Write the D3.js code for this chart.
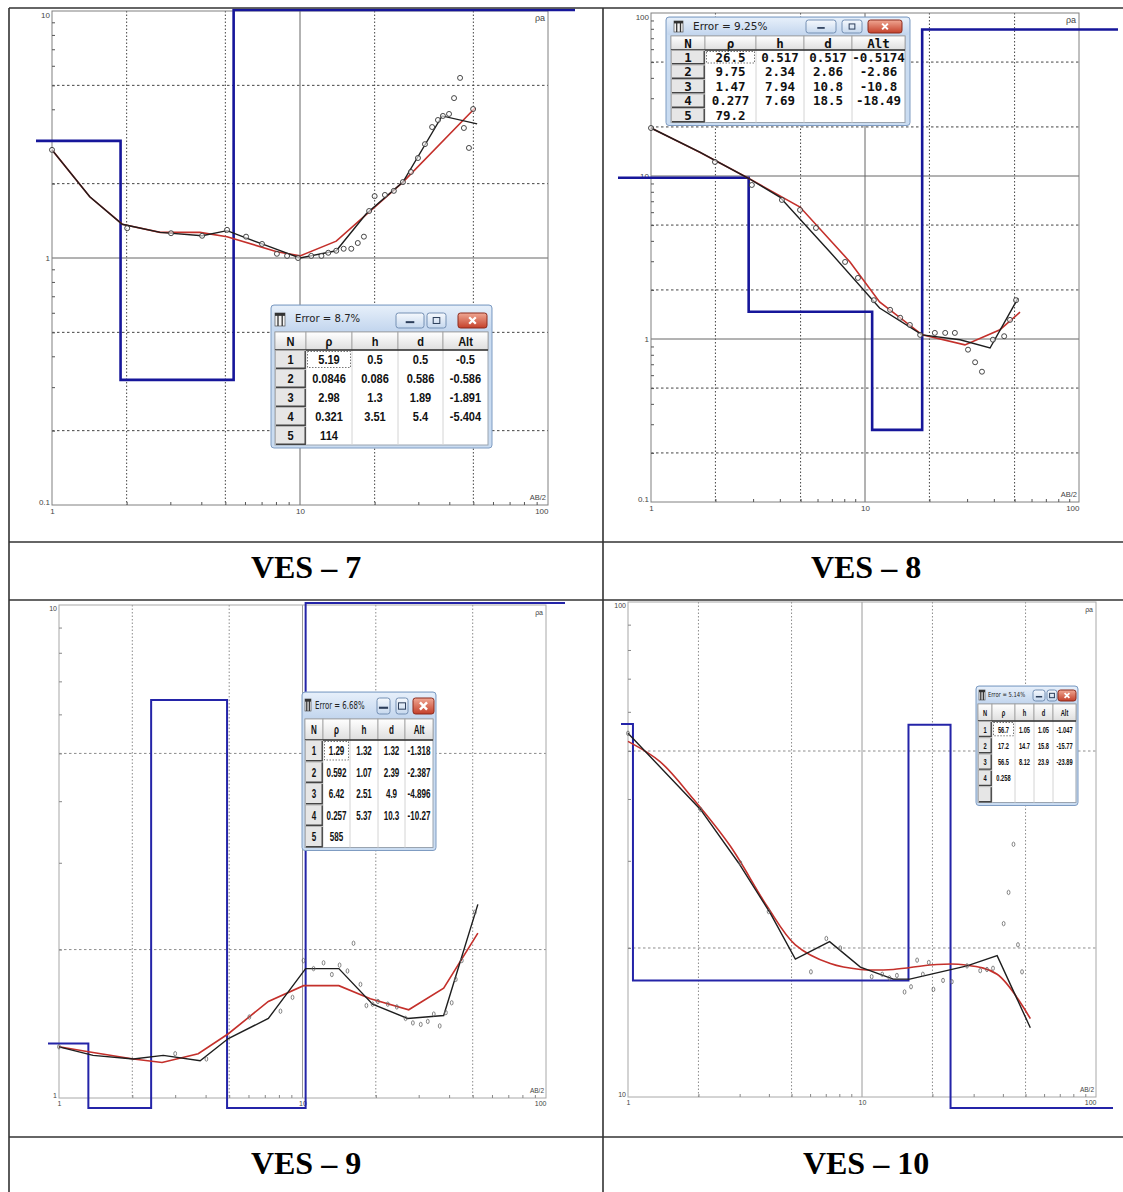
<!DOCTYPE html>
<html>
<head>
<meta charset="utf-8">
<script src="https://cdn.jsdelivr.net/npm/d3@7"></script>
<style>
  body { margin: 0; background: #fff; }
  svg { display: block; }
</style>
</head>
<body>
<svg id="chart" width="1123" height="1192"></svg>
<script>
const width = 1123
const height = 1192

// ---------- VES-7 ----------
const ves7Ab2 = [1.0, 2.01, 3.02, 4.03, 5.08, 6.06, 7.03, 8.07, 8.87, 9.82, 11.1, 12.2, 13.0, 14.0, 15.0, 16.1, 17.1, 18.1, 19.0, 20.0, 22.0, 23.9, 26.0, 28.0, 29.9, 31.9, 34.1, 36.0, 37.7, 39.9, 41.8, 44.2, 45.8, 48.0, 49.9]
const ves7Rho = [2.74, 1.32, 1.26, 1.23, 1.30, 1.22, 1.14, 1.04, 1.02, 1.00, 1.02, 1.02, 1.05, 1.07, 1.09, 1.09, 1.15, 1.22, 1.55, 1.78, 1.80, 1.87, 2.03, 2.23, 2.54, 2.89, 3.39, 3.62, 3.76, 3.83, 4.44, 5.36, 3.36, 2.79, 4.01]
const ves7FieldAb2 = [1.0, 1.42, 1.92, 2.73, 4.03, 5.08, 7.03, 10.0, 14.0, 18.5, 26.0, 37.4, 51.8]
const ves7FieldRho = [2.74, 1.77, 1.37, 1.27, 1.23, 1.29, 1.14, 1.00, 1.07, 1.51, 2.03, 3.76, 3.49]
const ves7CalcAb2 = [1.0, 1.42, 1.92, 2.73, 3.95, 5.08, 8.07, 10.0, 14.0, 26.0, 50.8]
const ves7CalcRho = [2.74, 1.77, 1.37, 1.27, 1.27, 1.22, 1.06, 1.02, 1.17, 2.03, 4.05]
const ves7Error = '8.7%'
const ves7LayerRho = ['5.19', '0.0846', '2.98', '0.321', '114']
const ves7LayerH = ['0.5', '0.086', '1.3', '3.51']
const ves7LayerD = ['0.5', '0.586', '1.89', '5.4']
const ves7LayerAlt = ['-0.5', '-0.586', '-1.891', '-5.404']

// ---------- VES-8 ----------
const ves8Ab2 = [1.0, 1.99, 2.96, 4.09, 4.97, 5.90, 8.07, 9.27, 11.0, 13.1, 14.6, 16.2, 18.1, 21.2, 23.7, 26.3, 30.3, 32.7, 35.2, 39.6, 44.7, 47.6, 50.8]
const ves8Rho = [19.7, 12.2, 8.81, 7.13, 6.19, 4.80, 2.97, 2.37, 1.73, 1.51, 1.35, 1.22, 1.06, 1.09, 1.09, 1.09, 0.86, 0.72, 0.63, 0.99, 1.04, 1.31, 1.73]
const ves8FieldAb2 = [1.0, 1.69, 2.84, 4.0, 6.86, 11.7, 18.5, 27.8, 38.4, 51.9]
const ves8FieldRho = [19.7, 14.0, 9.72, 7.43, 3.42, 1.55, 1.06, 0.99, 0.88, 1.78]
const ves8CalcAb2 = [1.0, 1.69, 2.84, 4.97, 8.51, 11.7, 18.5, 29.3, 42.7, 53.0]
const ves8CalcRho = [19.7, 14.0, 9.72, 6.45, 2.97, 1.69, 1.06, 0.92, 1.14, 1.46]
const ves8Error = '9.25%'
const ves8LayerRho = ['26.5', '9.75', '1.47', '0.277', '79.2']
const ves8LayerH = ['0.517', '2.34', '7.94', '7.69']
const ves8LayerD = ['0.517', '2.86', '10.8', '18.5']
const ves8LayerAlt = ['-0.5174', '-2.86', '-10.8', '-18.49']

// ---------- VES-9 ----------
const ves9Ab2 = [1.0, 3.0, 4.03, 6.05, 8.12, 9.10, 10.1, 11.1, 12.2, 13.2, 14.2, 15.3, 16.2, 17.3, 18.3, 19.4, 20.4, 22.4, 24.4, 26.5, 28.4, 30.6, 32.7, 34.6, 36.6, 38.8, 41.0, 42.6, 45.1, 51.0]
const ves9Rho = [1.27, 1.23, 1.20, 1.46, 1.50, 1.60, 1.90, 1.83, 1.88, 1.78, 1.86, 1.81, 2.06, 1.70, 1.54, 1.55, 1.57, 1.55, 1.53, 1.45, 1.42, 1.41, 1.43, 1.48, 1.40, 1.49, 1.56, 1.74, 1.90, 2.38]
const ves9FieldAb2 = [1.0, 1.38, 2.02, 2.68, 3.80, 4.96, 7.24, 10.3, 14.1, 19.4, 27.0, 38.0, 52.5]
const ves9FieldRho = [1.27, 1.22, 1.20, 1.22, 1.19, 1.32, 1.45, 1.83, 1.83, 1.55, 1.45, 1.47, 2.47]
const ves9CalcAb2 = [1.0, 1.34, 2.02, 2.65, 3.73, 4.96, 7.24, 10.1, 14.1, 19.0, 27.3, 38.0, 52.5]
const ves9CalcRho = [1.27, 1.24, 1.20, 1.18, 1.23, 1.35, 1.57, 1.69, 1.69, 1.59, 1.51, 1.67, 2.16]
const ves9Error = '6.68%'
const ves9LayerRho = ['1.29', '0.592', '6.42', '0.257', '585']
const ves9LayerH = ['1.32', '1.07', '2.51', '5.37']
const ves9LayerD = ['1.32', '2.39', '4.9', '10.3']
const ves9LayerAlt = ['-1.318', '-2.387', '-4.896', '-10.27']

// ---------- VES-10 ----------
const ves10Ab2 = [1.0, 2.04, 3.02, 3.99, 6.05, 7.04, 8.07, 11.0, 12.2, 13.1, 14.1, 15.2, 16.2, 17.2, 18.2, 19.3, 20.2, 22.2, 24.2, 28.1, 32.0, 34.2, 36.3, 40.3, 42.3, 44.4, 46.4, 48.3]
const ves10Rho = [54.3, 38.1, 29.7, 23.7, 17.9, 20.9, 20.0, 17.5, 17.7, 17.4, 17.6, 16.3, 16.7, 18.9, 17.7, 18.7, 16.5, 17.2, 17.1, 18.4, 18.0, 18.1, 18.2, 22.4, 25.9, 32.4, 20.3, 17.9]
const ves10FieldAb2 = [1.0, 2.04, 2.97, 4.06, 5.19, 7.27, 9.84, 13.6, 16.0, 28.1, 37.8, 52.4]
const ves10FieldRho = [54.3, 38.1, 29.7, 23.5, 19.0, 20.6, 18.3, 17.3, 17.3, 18.4, 19.3, 13.8]
const ves10CalcAb2 = [1.0, 1.37, 1.91, 2.74, 3.93, 5.19, 7.32, 9.84, 13.6, 20.2, 27.2, 37.8, 52.4]
const ves10CalcRho = [52.3, 47.6, 39.9, 32.1, 24.3, 20.3, 18.6, 18.1, 18.1, 18.5, 18.5, 17.7, 14.4]
const ves10Error = '5.14%'
const ves10LayerRho = ['56.7', '17.2', '56.5', '0.258']
const ves10LayerH = ['1.05', '14.7', '8.12']
const ves10LayerD = ['1.05', '15.8', '23.9']
const ves10LayerAlt = ['-1.047', '-15.77', '-23.89']

const tableHeads = ['N', 'ρ', 'h', 'd', 'Alt']

const panels = [
    {
        title: 'VES – 7', titleX: 306, titleY: 578,
        left: 52, right: 548, top: 11, bottom: 505, yDomain: [0.1, 10],
        clipX: [36, 575], clampY: [10, 515], light: false, dots: 'circle',
        ab2: ves7Ab2, rho: ves7Rho, fieldAb2: ves7FieldAb2, fieldRho: ves7FieldRho,
        calcAb2: ves7CalcAb2, calcRho: ves7CalcRho, smooth: false,
        layers: { rho: ves7LayerRho, h: ves7LayerH, d: ves7LayerD, alt: ves7LayerAlt, error: ves7Error, extraRows: 0 },
        win: { x: 271, y: 305, pad: 4, titleH: 27, headH: 18, rowH: 19, padB: 3, cols: [31, 46, 46, 45, 45],
               font: 'Liberation Sans', fs: 13, sx: 0.85, tfs: 11, tsx: 0.92, tdx: 24,
               icon: [4, 8, 10, 13],
               btns: [[125, 28], [156, 19], [187, 29]], btnY: 8, btnH: 15 }
    },
    {
        title: 'VES – 8', titleX: 866, titleY: 578,
        left: 651, right: 1079, top: 13, bottom: 502, yDomain: [0.1, 100],
        clipX: [618, 1118], clampY: [5, 515], light: false, dots: 'circle',
        ab2: ves8Ab2, rho: ves8Rho, fieldAb2: ves8FieldAb2, fieldRho: ves8FieldRho,
        calcAb2: ves8CalcAb2, calcRho: ves8CalcRho, smooth: false,
        layers: { rho: ves8LayerRho, h: ves8LayerH, d: ves8LayerD, alt: ves8LayerAlt, error: ves8Error, extraRows: 0 },
        win: { x: 666, y: 17, pad: 5, titleH: 19, headH: 14, rowH: 14.5, padB: 3, cols: [34, 51, 48, 48, 53],
               font: 'DejaVu Sans Mono', fs: 12.5, sx: 1, tfs: 10.5, tsx: 1, tdx: 27,
               icon: [8, 4, 9, 11],
               btns: [[140, 30], [176, 20], [202, 34]], btnY: 3, btnH: 13 }
    },
    {
        title: 'VES – 9', titleX: 306, titleY: 1174,
        left: 59, right: 546, top: 605, bottom: 1098, yDomain: [1, 10],
        clipX: [48, 565], clampY: [603, 1108], light: true, dots: 'zero',
        ab2: ves9Ab2, rho: ves9Rho, fieldAb2: ves9FieldAb2, fieldRho: ves9FieldRho,
        calcAb2: ves9CalcAb2, calcRho: ves9CalcRho, smooth: false,
        layers: { rho: ves9LayerRho, h: ves9LayerH, d: ves9LayerD, alt: ves9LayerAlt, error: ves9Error, extraRows: 0 },
        win: { x: 302, y: 692, pad: 3, titleH: 27, headH: 21, rowH: 21.5, padB: 3, cols: [18, 27, 28, 27, 28],
               font: 'Liberation Sans', fs: 13, sx: 0.62, tfs: 10, tsx: 0.7, tdx: 13,
               icon: [3, 7, 6, 12],
               btns: [[75, 13], [94, 12], [111, 21]], btnY: 6, btnH: 16 }
    },
    {
        title: 'VES – 10', titleX: 866, titleY: 1174,
        left: 628, right: 1096, top: 602, bottom: 1097, yDomain: [10, 100],
        clipX: [621, 1113], clampY: [600, 1108], light: true, dots: 'zero',
        ab2: ves10Ab2, rho: ves10Rho, fieldAb2: ves10FieldAb2, fieldRho: ves10FieldRho,
        calcAb2: ves10CalcAb2, calcRho: ves10CalcRho, smooth: true,
        layers: { rho: ves10LayerRho, h: ves10LayerH, d: ves10LayerD, alt: ves10LayerAlt, error: ves10Error, extraRows: 1 },
        win: { x: 976, y: 686, pad: 2, titleH: 18, headH: 17, rowH: 16.3, padB: 3, cols: [14, 23, 19, 19, 23],
               font: 'Liberation Sans', fs: 9.5, sx: 0.6, tfs: 7, tsx: 0.75, tdx: 12,
               icon: [3, 4, 6, 10],
               btns: [[57, 12], [71, 10], [82, 18]], btnY: 4, btnH: 11 }
    }
]

const svg = d3.select('#chart')
    .attr('viewBox', `0 0 ${width} ${height}`)

const defs = svg.append('defs')

function gradient (id, stops) {
    const lg = defs.append('linearGradient')
        .attr('id', id)
        .attr('x1', 0).attr('y1', 0).attr('x2', 0).attr('y2', 1)
    stops.forEach(s => lg.append('stop').attr('offset', s[0]).attr('stop-color', s[1]))
}

gradient('titleGrad', [['0%', '#e6effa'], ['100%', '#c3d6ee']])
gradient('btnGrad', [['0%', '#f6f9fd'], ['100%', '#c6d8ee']])
gradient('closeGrad', [['0%', '#f0a894'], ['100%', '#c4402a']])
gradient('headGrad', [['0%', '#ffffff'], ['100%', '#dedede']])

svg.append('rect').attr('width', width).attr('height', height).attr('fill', '#fff')

// ---------- plots ----------
const fmt = v => v >= 1 ? d3.format('d')(v) : String(v)
const round3 = v => +v.toPrecision(3)
const leadDigit = v => Math.round(v / Math.pow(10, Math.floor(Math.log10(v) + 1e-9)))

panels.forEach((p, i) => {
    const g = svg.append('g').attr('class', 'panel')

    const x = d3.scaleLog().domain([1, 100]).range([p.left, p.right])
    const y = d3.scaleLog().domain(p.yDomain).range([p.bottom, p.top])

    const xDec = [1, 10, 100]
    const e0 = Math.round(Math.log10(p.yDomain[0]))
    const e1 = Math.round(Math.log10(p.yDomain[1]))
    const yDec = d3.range(e0, e1 + 1).map(e => round3(Math.pow(10, e)))

    const minorOf = decs => decs.slice(0, -1).flatMap(dv => d3.range(2, 10).map(k => round3(k * dv)))
    const xMinor = minorOf(xDec)
    const yMinor = minorOf(yDec)

    const gridCol = p.light ? '#9a9a9a' : '#666'
    const dotCol = p.light ? '#8c8c8c' : '#444'

    // dotted grid at 2 and 5
    const xDot = xMinor.filter(v => [2, 5].includes(leadDigit(v)))
    const yDot = yMinor.filter(v => [2, 5].includes(leadDigit(v)))

    g.selectAll('line.vdot').data(xDot).enter().append('line')
        .attr('x1', d => x(d)).attr('x2', d => x(d))
        .attr('y1', p.top).attr('y2', p.bottom)
        .attr('stroke', dotCol).attr('stroke-width', 1).attr('stroke-dasharray', '1.5,2')
    g.selectAll('line.hdot').data(yDot).enter().append('line')
        .attr('x1', p.left).attr('x2', p.right)
        .attr('y1', d => y(d)).attr('y2', d => y(d))
        .attr('stroke', dotCol).attr('stroke-width', 1).attr('stroke-dasharray', '2.5,2.5')

    // solid decade grid
    g.selectAll('line.vsol').data(xDec.slice(1, -1)).enter().append('line')
        .attr('x1', d => x(d)).attr('x2', d => x(d))
        .attr('y1', p.top).attr('y2', p.bottom)
        .attr('stroke', gridCol).attr('stroke-width', 1)
    g.selectAll('line.hsol').data(yDec.slice(1, -1)).enter().append('line')
        .attr('x1', p.left).attr('x2', p.right)
        .attr('y1', d => y(d)).attr('y2', d => y(d))
        .attr('stroke', gridCol).attr('stroke-width', 1)

    // frame
    g.append('rect')
        .attr('x', p.left).attr('y', p.top)
        .attr('width', p.right - p.left).attr('height', p.bottom - p.top)
        .attr('fill', 'none').attr('stroke', p.light ? '#a8a8a8' : '#808080').attr('stroke-width', 1)

    // minor ticks
    const axStyle = sel => {
        sel.select('.domain').remove()
        sel.selectAll('line').attr('stroke', p.light ? '#888' : '#555')
    }
    g.append('g')
        .attr('transform', `translate(${p.left},0)`)
        .call(d3.axisLeft(y).tickValues(yMinor).tickSize(-3).tickFormat(''))
        .call(axStyle)
    g.append('g')
        .attr('transform', `translate(0,${p.bottom})`)
        .call(d3.axisBottom(x).tickValues(xMinor).tickSize(-3).tickFormat(''))
        .call(axStyle)

    // labelled decades
    const labelFont = sel => {
        sel.select('.domain').remove()
        sel.selectAll('text')
            .attr('font-family', 'Liberation Sans, Arial, sans-serif')
            .attr('font-size', p.light ? 7 : 8)
            .attr('fill', '#444')
    }
    const yl = g.append('g')
        .attr('transform', `translate(${p.left},0)`)
        .call(d3.axisLeft(y).tickValues(yDec).tickSize(0).tickPadding(2).tickFormat(fmt))
        .call(labelFont)
    yl.selectAll('.tick text').attr('dy', (d, k) => k === 0 ? '-0.1em' : (k === yDec.length - 1 ? '0.75em' : '0.32em'))

    const xl = g.append('g')
        .attr('transform', `translate(0,${p.bottom})`)
        .call(d3.axisBottom(x).tickValues(xDec).tickSize(0).tickPadding(3).tickFormat(fmt))
        .call(labelFont)
    xl.selectAll('.tick text').attr('text-anchor', (d, k) => k === xDec.length - 1 ? 'end' : 'middle')

    g.append('text')
        .attr('x', p.right - 2).attr('y', p.bottom - 5)
        .attr('text-anchor', 'end')
        .attr('font-family', 'Liberation Sans, Arial, sans-serif')
        .attr('font-size', p.light ? 6.5 : 7.5).attr('fill', '#444')
        .text('AB/2')
    g.append('text')
        .attr('x', p.right - 3).attr('y', p.top + 10)
        .attr('text-anchor', 'end')
        .attr('font-family', 'Liberation Sans, Arial, sans-serif')
        .attr('font-size', p.light ? 7 : 9).attr('fill', '#444')
        .text('ρa')

    // blue layered model from the table values (clipped in x, pinned in y)
    const clipId = 'clip' + i
    defs.append('clipPath').attr('id', clipId)
        .append('rect')
        .attr('x', p.clipX[0]).attr('y', 0)
        .attr('width', p.clipX[1] - p.clipX[0]).attr('height', height)

    const lr = p.layers.rho.map(Number)
    const ld = p.layers.d.map(Number)
    const modelPts = [[0.2, lr[0]]]
    ld.forEach((dv, k) => { modelPts.push([dv, lr[k]], [dv, lr[k + 1]]) })
    modelPts.push([500, lr[lr.length - 1]])

    const pinY = v => Math.max(p.clampY[0], Math.min(p.clampY[1], y(v)))
    const modelLine = d3.line().x(d => x(d[0])).y(d => pinY(d[1]))

    g.append('path')
        .datum(modelPts)
        .attr('clip-path', `url(#${clipId})`)
        .attr('d', modelLine)
        .attr('fill', 'none')
        .attr('stroke', p.light ? '#2424a8' : '#16169a')
        .attr('stroke-width', p.light ? 2 : 2.6)

    const line = d3.line().x(d => x(d[0])).y(d => y(d[1]))

    // red calculated curve
    const calc = p.calcAb2.map((v, k) => [v, p.calcRho[k]])
    g.append('path')
        .datum(calc)
        .attr('d', p.smooth ? line.curve(d3.curveCatmullRom) : line)
        .attr('fill', 'none')
        .attr('stroke', '#c4302b')
        .attr('stroke-width', 1.6)
    line.curve(d3.curveLinear)

    // black field curve
    const field = p.fieldAb2.map((v, k) => [v, p.fieldRho[k]])
    g.append('path')
        .datum(field)
        .attr('d', line)
        .attr('fill', 'none')
        .attr('stroke', '#1e1e1e')
        .attr('stroke-width', 1.4)

    // measured points
    const pts = p.ab2.map((v, k) => [v, p.rho[k]])
    if (p.dots === 'circle') {
        g.selectAll('circle.pt').data(pts).enter().append('circle')
            .attr('cx', d => x(d[0])).attr('cy', d => y(d[1]))
            .attr('r', 2.5)
            .attr('fill', '#fff').attr('fill-opacity', 0.6)
            .attr('stroke', '#333').attr('stroke-width', 0.9)
    } else {
        g.selectAll('ellipse.pt').data(pts).enter().append('ellipse')
            .attr('cx', d => x(d[0])).attr('cy', d => y(d[1]))
            .attr('rx', 1.4).attr('ry', 2.2)
            .attr('fill', 'none')
            .attr('stroke', '#666').attr('stroke-width', 0.8)
    }

    drawWindow(p.win, p.layers)

    svg.append('text')
        .attr('x', p.titleX).attr('y', p.titleY)
        .attr('text-anchor', 'middle')
        .attr('font-family', 'Liberation Serif, Times New Roman, serif')
        .attr('font-weight', 'bold')
        .attr('font-size', 32)
        .attr('fill', '#000')
        .text(p.title)
})

// ---------- error windows ----------
function drawWindow (t, L) {
    const g = svg.append('g').attr('class', 'win')
    const gridW = d3.sum(t.cols)
    const gx = t.x + t.pad
    const gy = t.y + t.titleH
    const nRows = L.rho.length + L.extraRows
    const h = t.titleH + t.headH + t.rowH * nRows + t.padB
    const w = gridW + 2 * t.pad

    g.append('rect')
        .attr('x', t.x).attr('y', t.y).attr('width', w).attr('height', h)
        .attr('rx', 3)
        .attr('fill', '#cadcf1').attr('stroke', '#7f9cc2')
    g.append('rect')
        .attr('x', t.x + 1).attr('y', t.y + 1).attr('width', w - 2).attr('height', t.titleH - 2)
        .attr('rx', 2)
        .attr('fill', 'url(#titleGrad)')

    // table icon
    const [idx, idy, iw, ih] = t.icon
    const ix = t.x + idx
    const iy = t.y + idy
    g.append('rect').attr('x', ix).attr('y', iy).attr('width', iw).attr('height', ih)
        .attr('fill', '#f4f4f4').attr('stroke', '#555').attr('stroke-width', 0.7)
    g.append('rect').attr('x', ix).attr('y', iy).attr('width', iw).attr('height', ih * 0.22).attr('fill', '#333')
    g.append('line').attr('x1', ix + iw * 0.3).attr('x2', ix + iw * 0.3).attr('y1', iy).attr('y2', iy + ih)
        .attr('stroke', '#333').attr('stroke-width', 1.3)
    g.append('line').attr('x1', ix + iw * 0.72).attr('x2', ix + iw * 0.72).attr('y1', iy).attr('y2', iy + ih)
        .attr('stroke', '#333').attr('stroke-width', 1.3)

    g.append('text')
        .attr('transform', `translate(${t.x + t.tdx},${t.y + t.titleH / 2}) scale(${t.tsx},1)`)
        .attr('dy', '0.35em')
        .attr('font-family', 'DejaVu Sans, Verdana, sans-serif')
        .attr('font-size', t.tfs)
        .attr('fill', '#222')
        .text('Error = ' + L.error)

    // caption buttons
    t.btns.forEach((b, k) => {
        const bx = t.x + b[0]
        const by = t.y + t.btnY
        g.append('rect')
            .attr('x', bx).attr('y', by).attr('width', b[1]).attr('height', t.btnH)
            .attr('rx', 2.5)
            .attr('fill', k === 2 ? 'url(#closeGrad)' : 'url(#btnGrad)')
            .attr('stroke', k === 2 ? '#8c2a1c' : '#7590b4')
        const cx = bx + b[1] / 2
        const cy = by + t.btnH / 2
        const s = t.btnH * 0.22
        if (k === 0) {
            g.append('rect').attr('x', cx - s * 1.3).attr('y', cy + s * 0.2).attr('width', s * 2.6).attr('height', Math.max(1.5, s * 0.6))
                .attr('fill', '#2c3e5a')
        } else if (k === 1) {
            g.append('rect').attr('x', cx - s).attr('y', cy - s * 0.9).attr('width', s * 2).attr('height', s * 1.8)
                .attr('fill', 'none').attr('stroke', '#2c3e5a').attr('stroke-width', 1)
        } else {
            g.append('path')
                .attr('d', `M${cx - s},${cy - s}L${cx + s},${cy + s}M${cx + s},${cy - s}L${cx - s},${cy + s}`)
                .attr('stroke', '#fff').attr('stroke-width', Math.max(1.5, s * 0.7))
        }
    })

    // grid body
    g.append('rect')
        .attr('x', gx).attr('y', gy).attr('width', gridW).attr('height', t.headH + t.rowH * nRows)
        .attr('fill', '#fff').attr('stroke', '#9aa4b0')

    const colX = Array.from(d3.cumsum([0].concat(t.cols)), v => gx + v)

    const cellText = (txt, cx, cy) => {
        g.append('text')
            .attr('transform', `translate(${cx},${cy}) scale(${t.sx},1)`)
            .attr('dy', '0.36em')
            .attr('text-anchor', 'middle')
            .attr('font-family', t.font + ', sans-serif')
            .attr('font-weight', 'bold')
            .attr('font-size', t.fs)
            .attr('fill', '#111')
            .text(txt)
    }

    // column separators in the body
    colX.slice(1, -1).forEach(cx => {
        g.append('line').attr('x1', cx).attr('x2', cx)
            .attr('y1', gy).attr('y2', gy + t.headH + t.rowH * nRows)
            .attr('stroke', '#d4d4d4')
    })

    // header
    tableHeads.forEach((hd, c) => {
        g.append('rect')
            .attr('x', colX[c]).attr('y', gy).attr('width', t.cols[c]).attr('height', t.headH)
            .attr('fill', 'url(#headGrad)').attr('stroke', '#9c9c9c').attr('stroke-width', 0.8)
        cellText(hd, colX[c] + t.cols[c] / 2, gy + t.headH / 2)
    })
    g.append('line').attr('x1', gx).attr('x2', gx + gridW)
        .attr('y1', gy + t.headH).attr('y2', gy + t.headH)
        .attr('stroke', '#333').attr('stroke-width', 1.5)

    // rows
    const rows = L.rho.map((r, k) => [String(k + 1), r, L.h[k] || '', L.d[k] || '', L.alt[k] || ''])
    d3.range(L.extraRows).forEach(() => rows.push(['', '', '', '', '']))

    rows.forEach((row, r) => {
        const ry = gy + t.headH + r * t.rowH
        g.append('rect')
            .attr('x', colX[0] + 0.5).attr('y', ry + 0.5).attr('width', t.cols[0] - 1).attr('height', t.rowH - 1)
            .attr('fill', '#e6e6e6').attr('stroke', '#aaa').attr('stroke-width', 0.8)
        g.append('path')
            .attr('d', `M${colX[0] + 1},${ry + t.rowH - 0.8}H${colX[1] - 0.8}V${ry + 1}`)
            .attr('fill', 'none').attr('stroke', '#444').attr('stroke-width', 1.4)
        row.forEach((txt, c) => cellText(txt, colX[c] + t.cols[c] / 2, ry + t.rowH / 2))
    })

    // focus cell
    g.append('rect')
        .attr('x', colX[1] + 1.5).attr('y', gy + t.headH + 1.5)
        .attr('width', t.cols[1] - 3).attr('height', t.rowH - 3)
        .attr('fill', 'none').attr('stroke', '#555').attr('stroke-width', 0.8).attr('stroke-dasharray', '1.5,1.5')
}

// ---------- page table rules ----------
const rules = [
    [9, 8, 1123, 8],
    [9, 8, 9, 1192],
    [603, 8, 603, 1192],
    [9, 542, 1123, 542],
    [9, 600, 1123, 600],
    [9, 1137, 1123, 1137]
]
svg.append('g')
    .selectAll('line')
    .data(rules)
    .enter()
    .append('line')
    .attr('x1', d => d[0]).attr('y1', d => d[1])
    .attr('x2', d => d[2]).attr('y2', d => d[3])
    .attr('stroke', '#333')
    .attr('stroke-width', 1.6)
</script>
</body>
</html>
